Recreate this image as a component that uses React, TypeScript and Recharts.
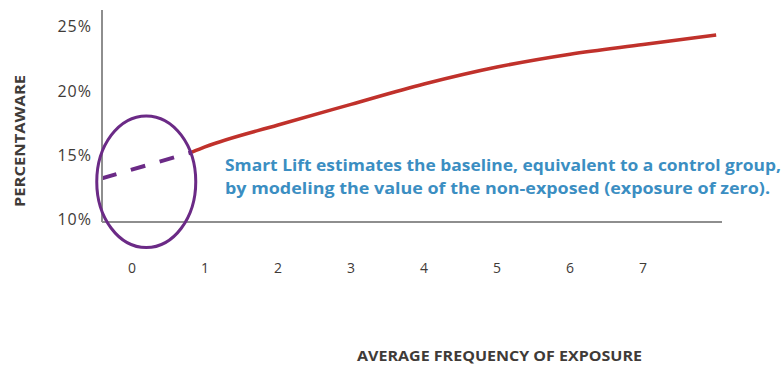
import React from 'react'
import {
  LineChart,
  Line,
  XAxis,
  YAxis,
  ReferenceDot,
  Customized,
  Label,
} from 'recharts'

// measured awareness curve (exposure -> % aware)
const exposure = [0.82, 1, 2, 3, 4, 5, 6, 7, 8]
const awareness = [15.23, 15.64, 17.35, 18.95, 20.53, 21.85, 22.85, 23.6, 24.34]

// modeled baseline back to zero exposure
const baselineExposure = [-0.41, 0.82]
const baselineAwareness = [13.21, 15.23]

const xTicks = [0, 1, 2, 3, 4, 5, 6, 7]
const yTicks = [10, 15, 20, 25]

const noteLines = [
  'Smart Lift estimates the baseline, equivalent to a control group,',
  'by modeling the value of the non-exposed (exposure of zero).',
]
const noteWidths = [556, 545]

const measured = exposure.map((x, i) => ({ x, y: awareness[i] }))
const baseline = baselineExposure.map((x, i) => ({ x, y: baselineAwareness[i] }))

const RED = '#c0312b'
const PURPLE = '#6b2a86'
const BLUE = '#3b8ec2'
const AXIS = '#8e8e8e'
const TEXT = '#3f3b38'
const FONT = '"Open Sans", sans-serif'

const ellipseShape = (props: any) => (
  <ellipse
    cx={props.cx}
    cy={props.cy}
    rx={49.5}
    ry={65.8}
    fill="none"
    stroke={PURPLE}
    strokeWidth={3}
  />
)

const YTick = (props: any) => (
  <text
    x={props.x}
    y={props.y}
    dy="0.36em"
    textAnchor="end"
    fill={TEXT}
    fontFamily={FONT}
    fontSize={16}
    letterSpacing={1}
  >
    {`${props.payload.value}%`}
  </text>
)

const Note = () => (
  <g>
    {noteLines.map((line, i) => (
      <text
        key={i}
        x={225}
        y={171 + i * 22.5}
        fill={BLUE}
        fontFamily={FONT}
        fontWeight={700}
        fontSize={15.5}
        textLength={noteWidths[i]}
        lengthAdjust="spacingAndGlyphs"
      >
        {line}
      </text>
    ))}
  </g>
)

export default function App() {
  return (
    <div style={{ width: 784, height: 366, background: '#fff' }}>
      <style>{'body{margin:0}'}</style>
      <LineChart
        width={784}
        height={366}
        margin={{ top: 10, right: 62, bottom: 114, left: 42 }}
        style={{ fontFamily: FONT }}
      >
        <XAxis
          type="number"
          dataKey="x"
          domain={[-0.41, 8.08]}
          ticks={xTicks}
          allowDataOverflow
          height={30}
          axisLine={{ stroke: AXIS, strokeWidth: 2 }}
          tickLine={false}
          tickMargin={35}
          tick={{ fill: TEXT, fontSize: 14, fontFamily: FONT }}
        >
          <Label
            content={() => (
              <text
                x={357}
                y={361}
                fill={TEXT}
                fontFamily={FONT}
                fontWeight={700}
                fontSize={14}
                textLength={285}
                lengthAdjust="spacingAndGlyphs"
              >
                AVERAGE FREQUENCY OF EXPOSURE
              </text>
            )}
          />
        </XAxis>
        <YAxis
          type="number"
          dataKey="y"
          domain={[9.81, 26.28]}
          ticks={yTicks}
          allowDataOverflow
          width={60}
          axisLine={{ stroke: AXIS, strokeWidth: 2 }}
          tickLine={false}
          tickMargin={4}
          tick={YTick}
        >
          <Label
            content={() => (
              <text
                x={25}
                y={207}
                transform="rotate(-90 25 207)"
                fill={TEXT}
                fontFamily={FONT}
                fontWeight={700}
                fontSize={14}
                textLength={132}
                lengthAdjust="spacingAndGlyphs"
              >
                PERCENTAWARE
              </text>
            )}
          />
        </YAxis>
        <Line
          data={baseline}
          dataKey="y"
          type="linear"
          stroke={PURPLE}
          strokeWidth={4}
          strokeDasharray="15 15"
          dot={false}
          activeDot={false}
          isAnimationActive={false}
        />
        <Line
          data={measured}
          dataKey="y"
          type="monotone"
          stroke={RED}
          strokeWidth={3.5}
          dot={false}
          activeDot={false}
          isAnimationActive={false}
        />
        <ReferenceDot x={0.196} y={12.94} ifOverflow="visible" shape={ellipseShape} />
        <Customized component={Note} />
      </LineChart>
    </div>
  )
}
